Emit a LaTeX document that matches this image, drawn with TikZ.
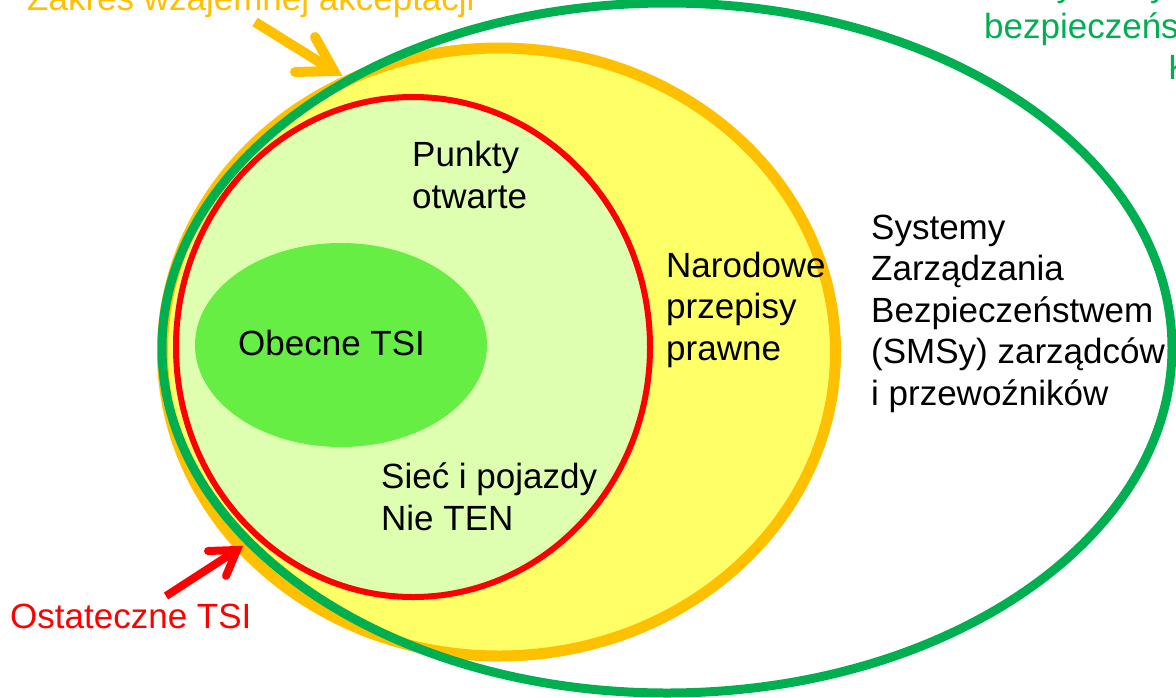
\documentclass[tikz,border=0pt]{standalone}
\usepackage{fontspec}
\setmainfont{Liberation Sans}
\definecolor{cOrange}{HTML}{FFC000}
\definecolor{cGreen}{HTML}{00B050}
\definecolor{cRed}{HTML}{FF0000}
\definecolor{cYellow}{HTML}{FFFF66}
\definecolor{cPale}{HTML}{DFFFB0}
\definecolor{cInGreen}{HTML}{66EE44}
\begin{document}
\begin{tikzpicture}[x=1pt,y=-1pt,
  lbl/.style={inner sep=0pt, anchor=base west, align=left, font=\fontsize{35}{41.5}\selectfont},
  arrowshaft/.style={line width=#1, line cap=butt},
  arrowhead/.style={line width=#1, line cap=round, line join=miter, miter limit=20}]
\useasboundingbox (0,0) rectangle (1176,697);
\clip (0,0) rectangle (1176,697);
% orange ellipse (zakres wzajemnej akceptacji)
\fill[cYellow] (499,352) ellipse [x radius=336.5, y radius=304];
% red ellipse interior
\fill[cPale] (413,347) ellipse [x radius=237, y radius=250];
% current TSI
\fill[cInGreen] (341,345) ellipse [x radius=146, y radius=102];
\draw[cOrange, line width=11] (499,352) ellipse [x radius=336.5, y radius=304];
\draw[cRed, line width=6] (413,347) ellipse [x radius=237, y radius=250];
% outer green ellipse
\draw[cGreen, line width=9] (667,348) ellipse [x radius=505, y radius=345];
% labels (anchor = baseline of the last line)
\node[lbl] (punkty) at (412,208) {Punkty\\otwarte};
\node[lbl] (obecne) at (238,355) {Obecne TSI};
\node[lbl] (narodowe) at (666,360) {Narodowe\\przepisy\\prawne};
\node[lbl] (systemy) at (871,405) {Systemy\\Zarządzania\\Bezpieczeństwem\\(SMSy) zarządców\\i przewoźników};
\node[lbl] (siec) at (381,530) {Sieć i pojazdy\\Nie TEN};
\node[lbl, text=cRed] (ostateczne) at (10,628) {Ostateczne TSI};
\node[lbl, text=cOrange] (zakres) at (27,10) {Zakres wzajemnej akceptacji};
\node[lbl, text=cGreen] (kraj1) at (1039,-3.5) {systemy};
\node[lbl, text=cGreen] (kraj2) at (984,38) {bezpieczeństwa};
\node[lbl, text=cGreen] (kraj3) at (1168,79.5) {K};
% orange arrow
\coordinate (oa0) at (255,22);
\coordinate (oa) at (334,71);
\coordinate (oa1) at (315,37);
\coordinate (oa2) at (295,72);
\draw[cOrange, arrowshaft=10] (oa0) -- (oa);
\draw[cOrange, arrowhead=10] (oa1) -- (oa) -- (oa2);
% red arrow
\coordinate (ra0) at (166,596);
\coordinate (ra) at (237,550);
\coordinate (ra1) at (208,551);
\coordinate (ra2) at (226,576);
\draw[cRed, arrowshaft=8] (ra0) -- (ra);
\draw[cRed, arrowhead=8] (ra1) -- (ra) -- (ra2);
\end{tikzpicture}
\end{document}
